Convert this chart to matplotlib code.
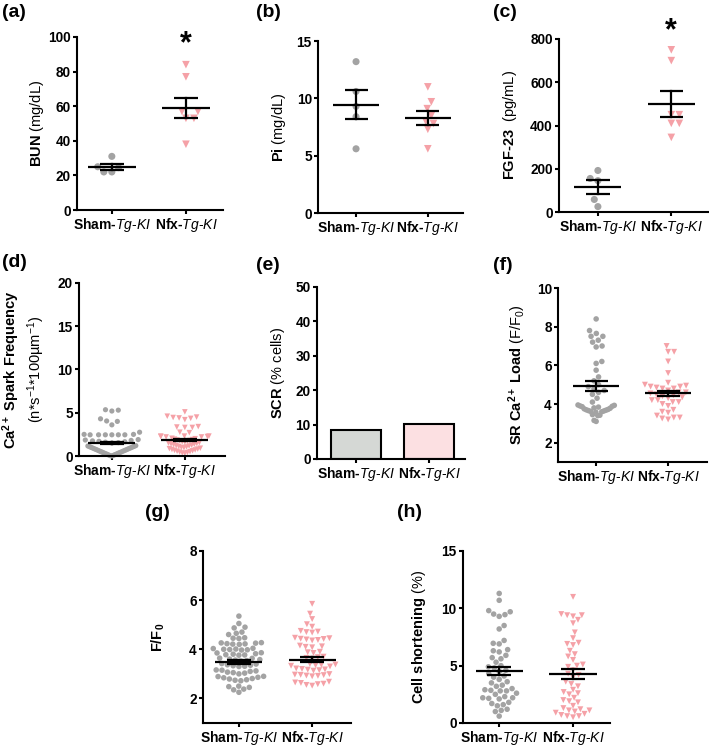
import numpy as np
import matplotlib
matplotlib.use("Agg")
import matplotlib.pyplot as plt

plt.rcParams['font.family'] = ['Liberation Sans', 'DejaVu Sans']
plt.rcParams['mathtext.fontset'] = 'custom'
plt.rcParams['mathtext.rm'] = 'Liberation Sans'
plt.rcParams['mathtext.bf'] = 'Liberation Sans:bold'
plt.rcParams['mathtext.it'] = 'Liberation Sans:italic'
plt.rcParams['mathtext.sf'] = 'Liberation Sans'

# ---------------- data ----------------
groups = ['Sham', 'Nfx']

bun_sham = [31, 24.5, 22, 22, 25]
bun_nfx = [84, 77, 57, 57, 53, 53, 38]
bun_mean = [24.8, 58.9]
bun_sem = [1.7, 6.0]

pi_sham = [13.2, 10.6, 9.3, 8.4, 5.6]
pi_nfx = [11.0, 9.7, 9.1, 8.5, 8.0, 7.8, 7.3, 5.6]
pi_mean = [9.45, 8.3]
pi_sem = [1.27, 0.6]

fgf_sham = [192, 155, 145, 58, 25]
fgf_nfx = [750, 700, 450, 450, 410, 410, 345]
fgf_mean = [115, 500]
fgf_sem = [32, 60]

spark_sham = [5.35, 5.2, 5.3, 4.3, 4.05, 4.0, 3.6,
              2.75, 2.5, 2.45, 2.45, 2.45, 2.45, 2.45, 2.45, 2.5,
              0.0, 0.04, 0.08, 0.12, 0.16, 0.2, 0.24, 0.28, 0.32, 0.36, 0.4,
              0.44, 0.48, 0.52, 0.56, 0.6, 0.64, 0.68, 0.72, 0.76, 0.8, 0.84,
              0.88, 0.92, 0.96, 1.0, 1.04, 1.08, 1.12, 1.16, 1.2,
              1.5, 1.55, 1.6, 1.65, 1.7, 1.75, 1.8, 1.85, 1.9]
spark_nfx = [5.1, 4.5, 4.35, 4.4, 4.45, 4.6, 4.2,
             3.3, 3.35, 3.3, 3.4, 2.75, 2.7,
             2.3, 2.3, 2.25, 2.2, 2.25, 2.3, 2.2,
             0.3, 0.35, 0.4, 0.45, 0.5, 0.55, 0.6, 0.65, 0.7, 0.75, 0.8, 0.85,
             0.9, 0.95, 1.0, 1.05, 1.1, 1.15, 1.2, 1.25, 1.3, 1.35, 1.4, 1.45,
             1.5, 1.55, 1.6, 1.65, 1.7, 1.75, 1.8, 1.85, 1.9, 1.95, 2.0, 2.05]
spark_mean = [1.5, 1.85]
spark_sem = [0.17, 0.15]

scr_values = [8.3, 10.2]

load_sham = [8.4, 7.8, 7.65, 7.5, 7.5, 7.3, 7.2, 7.0, 6.95, 6.2, 6.1, 5.75, 5.4,
             5.2, 5.0, 4.9, 4.8, 4.7, 4.6, 4.5, 4.3, 4.1, 3.95, 3.93, 3.9, 3.88,
             3.86, 3.84, 3.8, 3.78, 3.75, 3.72, 3.7, 3.68, 3.66, 3.64, 3.62, 3.6,
             3.58, 3.45, 3.42, 3.4, 3.15, 3.1]
load_nfx = [7.0, 6.7, 6.7, 6.2, 5.6, 5.1, 5.0, 4.95, 4.9, 4.9, 4.85, 4.8, 4.8,
            4.7, 4.6, 4.6, 4.55, 4.5, 4.45, 4.4, 4.35, 4.3, 4.2, 4.2, 4.1, 4.1,
            4.0, 3.9, 3.7, 3.6, 3.55, 3.4, 3.3, 3.3, 3.25, 3.2]
load_mean = [4.92, 4.55]
load_sem = [0.25, 0.12]

ff0_sham = [5.35, 5.05, 4.9, 4.87, 4.7, 4.65, 4.6, 4.47, 4.45, 4.44,
            4.27, 4.25, 4.23, 4.21, 4.2, 4.22, 4.26,
            4.03, 4.01, 3.99, 3.97, 3.98, 4.0, 4.04,
            3.86, 3.82, 3.78, 3.76, 3.77, 3.8, 3.85,
            3.64, 3.6, 3.56, 3.52, 3.54, 3.58, 3.63,
            3.42, 3.37, 3.33, 3.3, 3.31, 3.35, 3.4,
            3.16, 3.12, 3.07, 3.03, 3.0, 3.05, 3.1, 3.15,
            2.9, 2.86, 2.81, 2.76, 2.72, 2.74, 2.79, 2.84, 2.89,
            2.5, 2.45, 2.38, 2.25, 2.35, 2.48]
ff0_nfx = [5.85, 5.45, 5.23, 5.02, 4.92, 4.75, 4.7, 4.68, 4.72,
           4.45, 4.42, 4.38, 4.36, 4.4, 4.43, 4.47,
           4.15, 4.1, 4.08, 4.12, 3.9, 3.85, 3.88,
           3.7, 3.65, 3.62, 3.68,
           3.4, 3.37, 3.33, 3.3, 3.35, 3.38,
           3.2, 3.18, 3.15, 3.13, 3.17, 3.22,
           2.97, 2.95, 2.92, 2.9, 2.93, 2.96, 2.99,
           2.68, 2.65, 2.6, 2.55, 2.52, 2.58, 2.63]
ff0_mean = [3.48, 3.58]
ff0_sem = [0.08, 0.11]

short_sham = [11.3, 10.7, 9.8, 9.7, 9.5, 9.45, 9.3, 8.5, 8.2, 7.2, 6.95, 6.9,
              6.4, 6.3, 6.2, 5.9, 5.7, 5.6, 5.3, 5.0, 4.9, 4.8, 4.6, 4.5, 4.3,
              4.1, 4.0, 3.8, 3.6, 3.5, 3.3, 3.2, 3.0, 2.9, 2.85, 2.8, 2.8, 2.6,
              2.5, 2.3, 2.2, 2.2, 2.15, 2.1, 1.8, 1.7, 1.6, 1.5, 1.2, 1.1, 1.0, 0.6]
short_nfx = [11.0, 9.5, 9.4, 9.3, 9.4, 9.0, 8.7, 7.9, 7.4, 7.0, 6.9, 6.8, 6.3,
             6.0, 5.8, 5.5, 5.1, 5.0, 4.9, 4.6, 4.3, 4.2, 4.0, 3.6, 3.4, 3.2,
             2.9, 2.7, 2.6, 2.5, 2.2, 2.0, 1.9, 1.8, 1.5, 1.3, 1.2, 1.1, 1.1,
             1.0, 0.9, 0.8, 0.7, 0.6, 0.5, 0.6]
short_mean = [4.55, 4.28]
short_sem = [0.37, 0.4]

GRAY = '#A3A3A3'
PINK = '#F5A1A7'
BAR_GRAY = '#D5D8D5'
BAR_PINK = '#FCE0E2'

W, H = 709, 746
fig = plt.figure(figsize=(W / 100, H / 100), dpi=100)


def add_ax(left, right, top, bottom):
    return fig.add_axes([left / W, 1 - bottom / H, (right - left) / W, (bottom - top) / H])


def style(ax, xlim, ylim, yticks, ylabel, labx):
    ax.set_xlim(*xlim)
    ax.set_ylim(*ylim)
    ax.set_yticks(yticks)
    ax.set_xticks([0, 1])
    ax.set_xticklabels(['$\\mathbf{Sham\u2010}\\mathit{Tg\u2010KI}$',
                        '$\\mathbf{Nfx\u2010}\\mathit{Tg\u2010KI}$'], fontsize=10)
    for t in ax.get_yticklabels():
        t.set_fontweight('bold')
        t.set_fontsize(9.8)
    for s in ['top', 'right']:
        ax.spines[s].set_visible(False)
    for s in ['left', 'bottom']:
        ax.spines[s].set_linewidth(1.5)
    ax.tick_params(width=1.5, length=3, pad=1.5)
    ax.set_ylabel(ylabel, fontsize=10.5)
    ax.yaxis.set_label_coords(labx, 0.5)


def swarm_x(ax, xc, vals, diam, maxw, dense_below=None, dense_dx=None, dense_dy=None):
    """Beeswarm offsets; points below `dense_below` pack with an elliptical
    footprint (narrow in x, tall in y) among themselves, like Prism's rows."""
    vals = np.asarray(vals, float)
    order = np.argsort(vals, kind='stable')
    tr = ax.transData
    xs = tr.transform((1, 0))[0] - tr.transform((0, 0))[0]
    ypx = tr.transform(np.column_stack([np.zeros(len(vals)), vals]))[:, 1]
    placed = []  # (x, y, dense)
    out = np.zeros(len(vals))
    maxpx = maxw * xs
    sign = 1
    for i in order:
        y = ypx[i]
        dense = dense_below is not None and vals[i] < dense_below

        def radii(other_dense):
            if dense and other_dense:
                return dense_dx, dense_dy
            return diam, diam

        cands = [0.0]
        for (px, py, pd) in placed:
            hx, hy = radii(pd)
            dy = y - py
            if abs(dy) < hy:
                dx = hx * np.sqrt(1 - (dy / hy) ** 2)
                cands += [px + dx, px - dx]

        def ok(c):
            for (px, py, pd) in placed:
                hx, hy = radii(pd)
                if ((c - px) / hx) ** 2 + ((y - py) / hy) ** 2 < 1 - 1e-6:
                    return False
            return True

        best = 0.0
        for c in sorted(cands, key=lambda c: (round(abs(c), 3), -sign * c)):
            if ok(c):
                best = c
                break
        best = float(np.clip(best, -maxpx, maxpx))
        sign = -sign
        placed.append((best, y, dense))
        out[i] = xc + best / xs
    return out


def scatter_group(ax, vals, xc, marker, color, size, diam, maxw, **dense):
    x = swarm_x(ax, xc, vals, diam, maxw, **dense)
    ax.scatter(x, vals, s=size, marker=marker, color=color, edgecolors='none',
               zorder=2, clip_on=False)


def mean_sem(ax, means, sems, mh=0.32, ch=0.16):
    for i, (m, s) in enumerate(zip(means, sems)):
        ax.plot([i - mh, i + mh], [m, m], color='black', lw=1.6, zorder=3, solid_capstyle='butt')
        ax.plot([i - ch, i + ch], [m + s, m + s], color='black', lw=1.6, zorder=3, solid_capstyle='butt')
        ax.plot([i - ch, i + ch], [m - s, m - s], color='black', lw=1.6, zorder=3, solid_capstyle='butt')
        ax.plot([i, i], [m - s, m + s], color='black', lw=1.6, zorder=3)


def panel_label(x, y, s):
    fig.text(x / W, 1 - y / H, s, fontsize=14, fontweight='bold', va='top', ha='left')


# (a) BUN
ax = add_ax(77, 223, 37, 210)
style(ax, (-0.47, 1.5), (0, 100), [0, 20, 40, 60, 80, 100],
      '$\\mathbf{BUN}\\ \\mathrm{(mg/dL)}$', -0.21)
scatter_group(ax, bun_sham, 0, 'o', GRAY, 26, 8, 0.4)
scatter_group(ax, bun_nfx, 1, 'v', PINK, 30, 8, 0.4)
mean_sem(ax, bun_mean, bun_sem)
ax.text(1, 96, '*', fontsize=22, fontweight='bold', ha='center', va='center', clip_on=False)
panel_label(2, 4, '(a)')

# (b) Pi
ax = add_ax(318, 463, 41, 213)
style(ax, (-0.53, 1.49), (0, 15), [0, 5, 10, 15],
      '$\\mathbf{Pi}\\ \\mathrm{(mg/dL)}$', -0.21)
scatter_group(ax, pi_sham, 0, 'o', GRAY, 26, 8, 0.4)
scatter_group(ax, pi_nfx, 1, 'v', PINK, 30, 8, 0.4)
mean_sem(ax, pi_mean, pi_sem)
panel_label(256, 4, '(b)')

# (c) FGF-23
ax = add_ax(559, 708, 39, 212)
style(ax, (-0.53, 1.5), (0, 800), [0, 200, 400, 600, 800],
      '$\\mathbf{FGF\u201023}\\ \\ \\mathrm{(pg/mL)}$', -0.27)
scatter_group(ax, fgf_sham, 0, 'o', GRAY, 26, 8, 0.4)
scatter_group(ax, fgf_nfx, 1, 'v', PINK, 30, 8, 0.4)
mean_sem(ax, fgf_mean, fgf_sem)
ax.text(1, 835, '*', fontsize=22, fontweight='bold', ha='center', va='center', clip_on=False)
panel_label(493, 4, '(c)')

# (d) Spark frequency
ax = add_ax(79, 225, 283, 456)
style(ax, (-0.45, 1.55), (0, 20), [0, 5, 10, 15, 20],
      '$\\mathbf{Ca^{2+}\\ Spark\\ Frequency}$\n$\\mathrm{(n{*}s^{-1}{*}100\u00b5m^{-1})}$', -0.22)
scatter_group(ax, spark_sham, 0, 'o', GRAY, 14, 6.5, 0.38,
              dense_below=1.3, dense_dx=1.6, dense_dy=12)
scatter_group(ax, spark_nfx, 1, 'v', PINK, 16, 6.0, 0.33,
              dense_below=2.1, dense_dx=2.6, dense_dy=6)
mean_sem(ax, spark_mean, spark_sem)
panel_label(2, 254, '(d)')

# (e) SCR bars
ax = add_ax(317, 465, 287, 459)
style(ax, (-0.53, 1.49), (0, 50), [0, 10, 20, 30, 40, 50],
      '$\\mathbf{SCR}\\ \\mathrm{(\\%\\ cells)}$', -0.20)
ax.bar([0, 1], scr_values, width=0.68, color=[BAR_GRAY, BAR_PINK],
       edgecolor='black', linewidth=1.5, zorder=2)
panel_label(256, 257, '(e)')

# (f) SR Ca load
ax = add_ax(558, 707, 288, 462)
style(ax, (-0.53, 1.54), (1, 10), [2, 4, 6, 8, 10],
      '$\\mathbf{SR\\ Ca^{2+}\\ Load}\\ \\mathrm{(F/F_0)}$', -0.20)
scatter_group(ax, load_sham, 0, 'o', GRAY, 16, 6.0, 0.45,
              dense_below=4.0, dense_dx=2.1, dense_dy=9)
scatter_group(ax, load_nfx, 1, 'v', PINK, 18, 6.0, 0.45)
mean_sem(ax, load_mean, load_sem)
panel_label(493, 257, '(f)')

# (g) F/F0
ax = add_ax(203, 351, 551, 723)
style(ax, (-0.49, 1.53), (1, 8), [2, 4, 6, 8],
      '$\\mathbf{F/F_0}$', -0.245)
scatter_group(ax, ff0_sham, 0, 'o', GRAY, 16, 5.8, 0.45)
scatter_group(ax, ff0_nfx, 1, 'v', PINK, 18, 5.8, 0.45)
mean_sem(ax, ff0_mean, ff0_sem)
panel_label(145, 504, '(g)')

# (h) Cell shortening
ax = add_ax(463, 610, 551, 723)
style(ax, (-0.49, 1.5), (0, 15), [0, 5, 10, 15],
      '$\\mathbf{Cell\\ shortening}\\ \\mathrm{(\\%)}$', -0.24)
scatter_group(ax, short_sham, 0, 'o', GRAY, 16, 6.0, 0.45)
scatter_group(ax, short_nfx, 1, 'v', PINK, 18, 6.0, 0.45)
mean_sem(ax, short_mean, short_sem)
panel_label(397, 504, '(h)')

fig.savefig('out.png', dpi=100)
